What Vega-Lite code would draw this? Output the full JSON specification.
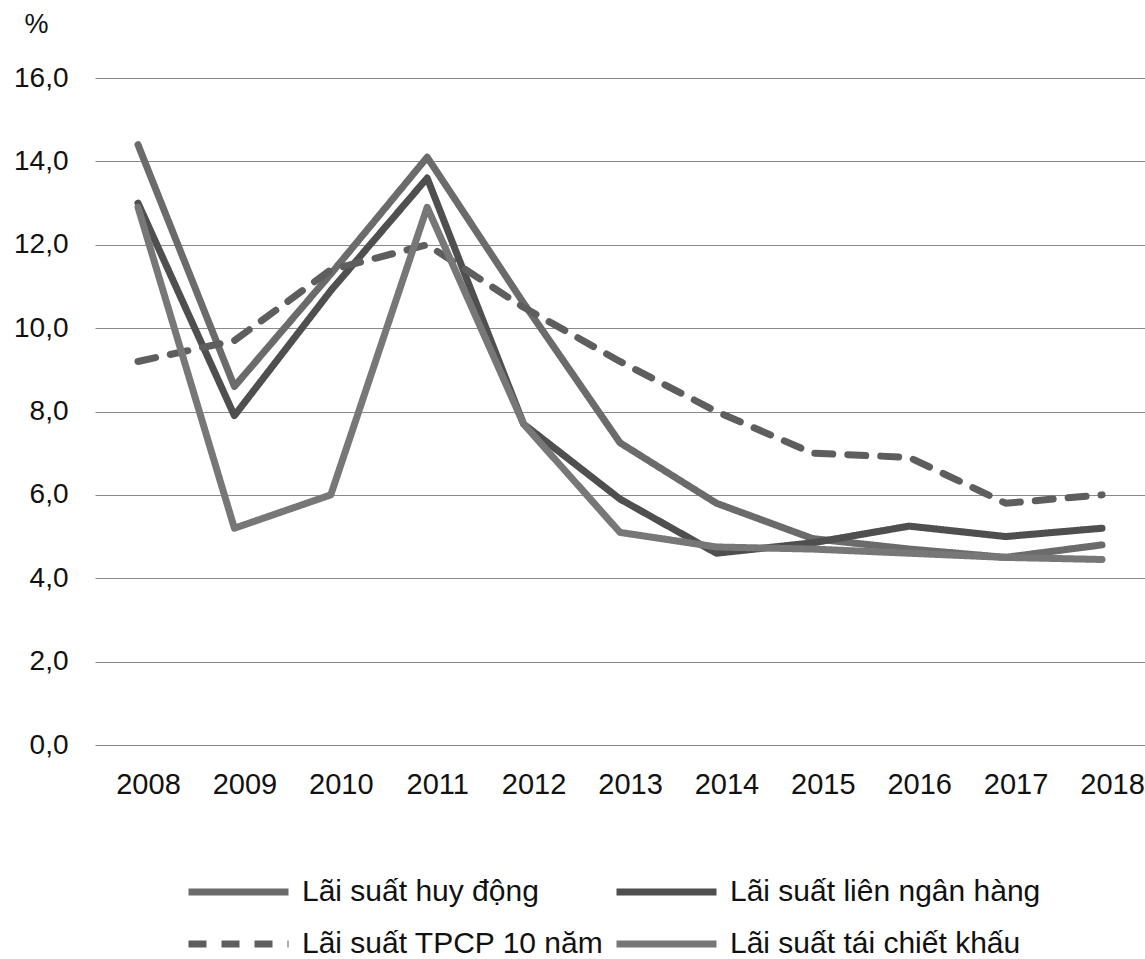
{
  "$schema": "https://vega.github.io/schema/vega-lite/v6.json",
  "width": 1050,
  "height": 667,
  "autosize": {"type": "none"},
  "padding": {"left": 95, "top": 78, "right": 0, "bottom": 214},
  "background": "white",
  "config": {
    "font": "Liberation Sans",
    "view": {"stroke": null}
  },
  "data": {
    "values": [
      {"year": 2008, "series": "Lãi suất huy động", "value": 14.4},
      {"year": 2009, "series": "Lãi suất huy động", "value": 8.6},
      {"year": 2010, "series": "Lãi suất huy động", "value": 11.3},
      {"year": 2011, "series": "Lãi suất huy động", "value": 14.1},
      {"year": 2012, "series": "Lãi suất huy động", "value": 10.6},
      {"year": 2013, "series": "Lãi suất huy động", "value": 7.25},
      {"year": 2014, "series": "Lãi suất huy động", "value": 5.8},
      {"year": 2015, "series": "Lãi suất huy động", "value": 4.95},
      {"year": 2016, "series": "Lãi suất huy động", "value": 4.7},
      {"year": 2017, "series": "Lãi suất huy động", "value": 4.5},
      {"year": 2018, "series": "Lãi suất huy động", "value": 4.8},
      {"year": 2008, "series": "Lãi suất liên ngân hàng", "value": 13.0},
      {"year": 2009, "series": "Lãi suất liên ngân hàng", "value": 7.9},
      {"year": 2010, "series": "Lãi suất liên ngân hàng", "value": 10.9},
      {"year": 2011, "series": "Lãi suất liên ngân hàng", "value": 13.6},
      {"year": 2012, "series": "Lãi suất liên ngân hàng", "value": 7.7},
      {"year": 2013, "series": "Lãi suất liên ngân hàng", "value": 5.9},
      {"year": 2014, "series": "Lãi suất liên ngân hàng", "value": 4.6},
      {"year": 2015, "series": "Lãi suất liên ngân hàng", "value": 4.85},
      {"year": 2016, "series": "Lãi suất liên ngân hàng", "value": 5.25},
      {"year": 2017, "series": "Lãi suất liên ngân hàng", "value": 5.0},
      {"year": 2018, "series": "Lãi suất liên ngân hàng", "value": 5.2},
      {"year": 2008, "series": "Lãi suất TPCP  10 năm", "value": 9.2},
      {"year": 2009, "series": "Lãi suất TPCP  10 năm", "value": 9.7},
      {"year": 2010, "series": "Lãi suất TPCP  10 năm", "value": 11.4},
      {"year": 2011, "series": "Lãi suất TPCP  10 năm", "value": 12.0},
      {"year": 2012, "series": "Lãi suất TPCP  10 năm", "value": 10.5},
      {"year": 2013, "series": "Lãi suất TPCP  10 năm", "value": 9.2},
      {"year": 2014, "series": "Lãi suất TPCP  10 năm", "value": 8.0},
      {"year": 2015, "series": "Lãi suất TPCP  10 năm", "value": 7.0},
      {"year": 2016, "series": "Lãi suất TPCP  10 năm", "value": 6.9},
      {"year": 2017, "series": "Lãi suất TPCP  10 năm", "value": 5.8},
      {"year": 2018, "series": "Lãi suất TPCP  10 năm", "value": 6.0},
      {"year": 2008, "series": "Lãi suất tái chiết khấu", "value": 12.9},
      {"year": 2009, "series": "Lãi suất tái chiết khấu", "value": 5.2},
      {"year": 2010, "series": "Lãi suất tái chiết khấu", "value": 6.0},
      {"year": 2011, "series": "Lãi suất tái chiết khấu", "value": 12.9},
      {"year": 2012, "series": "Lãi suất tái chiết khấu", "value": 7.7},
      {"year": 2013, "series": "Lãi suất tái chiết khấu", "value": 5.1},
      {"year": 2014, "series": "Lãi suất tái chiết khấu", "value": 4.75},
      {"year": 2015, "series": "Lãi suất tái chiết khấu", "value": 4.7},
      {"year": 2016, "series": "Lãi suất tái chiết khấu", "value": 4.6},
      {"year": 2017, "series": "Lãi suất tái chiết khấu", "value": 4.5},
      {"year": 2018, "series": "Lãi suất tái chiết khấu", "value": 4.45}
    ]
  },
  "mark": {"type": "line", "strokeWidth": 7, "strokeCap": "round", "strokeJoin": "round"},
  "encoding": {
    "x": {
      "field": "year",
      "type": "quantitative",
      "scale": {"domain": [2007.554, 2018.446], "nice": false, "zero": false},
      "axis": {
        "title": null,
        "values": [2008, 2009, 2010, 2011, 2012, 2013, 2014, 2015, 2016, 2017, 2018],
        "labelExpr": "'' + datum.value",
        "domain": false,
        "ticks": false,
        "grid": false,
        "labelFontSize": 29,
        "labelColor": "#111",
        "labelPadding": 25,
        "labelOffset": 10,
        "labelFlush": false,
        "labelOverlap": false
      }
    },
    "y": {
      "field": "value",
      "type": "quantitative",
      "scale": {"domain": [0, 16], "nice": false},
      "axis": {
        "title": "%",
        "titleAngle": 0,
        "titleX": -59,
        "titleY": -54,
        "titleAlign": "center",
        "titleBaseline": "middle",
        "titleFontSize": 27,
        "titleFontWeight": "normal",
        "titleColor": "#111",
        "values": [0, 2, 4, 6, 8, 10, 12, 14, 16],
        "labelExpr": "replace(format(datum.value, '.1f'), '.', ',')",
        "domain": false,
        "ticks": false,
        "grid": true,
        "gridColor": "#8a8a8a",
        "gridWidth": 1.2,
        "labelFontSize": 28,
        "labelColor": "#111",
        "labelPadding": 27,
        "labelFlush": false
      }
    },
    "color": {
      "field": "series",
      "type": "nominal",
      "scale": {
        "domain": ["Lãi suất huy động", "Lãi suất liên ngân hàng", "Lãi suất TPCP  10 năm", "Lãi suất tái chiết khấu"],
        "range": ["#6b6b6b", "#4f4f4f", "#5e5e5e", "#777777"]
      },
      "legend": {
        "title": null,
        "orient": "none",
        "legendX": 90,
        "legendY": 799,
        "columns": 2,
        "direction": "horizontal",
        "symbolType": "stroke",
        "symbolSize": 10000,
        "symbolStrokeWidth": 7,
        "clipHeight": 30,
        "labelFontSize": 30,
        "labelColor": "#111",
        "labelOffset": 10,
        "labelLimit": 500,
        "columnPadding": -18,
        "rowPadding": 22
      }
    },
    "strokeDash": {
      "field": "series",
      "type": "nominal",
      "scale": {
        "domain": ["Lãi suất huy động", "Lãi suất liên ngân hàng", "Lãi suất TPCP  10 năm", "Lãi suất tái chiết khấu"],
        "range": [[1, 0], [1, 0], [18, 15], [1, 0]]
      },
      "legend": null
    }
  }
}
